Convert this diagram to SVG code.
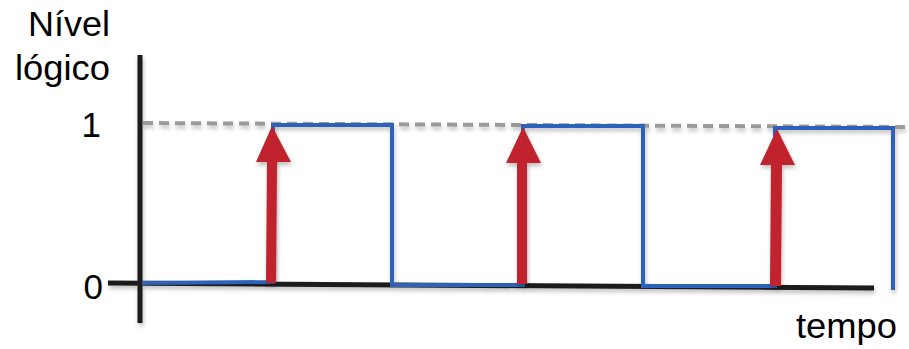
<svg xmlns="http://www.w3.org/2000/svg" width="909" height="349" viewBox="0 0 909 349">
<style>
.t{font-family:"Liberation Sans",Arial,sans-serif;font-size:35px;fill:#000}
.axis{stroke:#1c1c1c;stroke-width:5;fill:none}
.dash{stroke:#9a9a9a;stroke-width:4;stroke-dasharray:10 6;fill:none}
.wave{stroke:#2d62b8;stroke-width:4;fill:none;stroke-linejoin:miter}
.arr{fill:#c0202f}
</style>
<defs>
<filter id="sh" x="-5%" y="-5%" width="110%" height="120%">
<feDropShadow dx="1" dy="3" stdDeviation="2" flood-color="#000" flood-opacity="0.25"/>
</filter>
</defs>
<g id="labels">
<text class="t" x="28" y="36" textLength="82" lengthAdjust="spacingAndGlyphs">Nível</text>
<text class="t" x="15" y="80" textLength="95" lengthAdjust="spacingAndGlyphs">lógico</text>
<text class="t" x="101" y="137" text-anchor="end">1</text>
<text class="t" x="103" y="299" text-anchor="end">0</text>
<text class="t" x="796" y="338" textLength="101" lengthAdjust="spacingAndGlyphs">tempo</text>
</g>
<g id="connectors" filter="url(#sh)">
<line class="dash" x1="143" y1="123" x2="905" y2="127"/>
<line class="axis" x1="140" y1="55" x2="140" y2="323"/>
<line class="axis" x1="108" y1="283" x2="874" y2="288"/>
<polyline class="wave" points="142,283 273,282 273,125 392,125 392,285 523,285 523,126 643,126 643,286 775,286 775,128 893,128 893,290"/>
</g>
<g id="arrows" filter="url(#sh)">
<path class="arr" d="M266,283 L267,162 L256,162 L272,126 L291,162 L277,162 L276,283 Z"/>
<path class="arr" d="M517,284 L517,163 L506,163 L523,127 L541,163 L527,163 L527,284 Z"/>
<path class="arr" d="M770,286 L771,165 L760,165 L777,129 L795,165 L782,165 L781,286 Z"/>
</g>
</svg>
